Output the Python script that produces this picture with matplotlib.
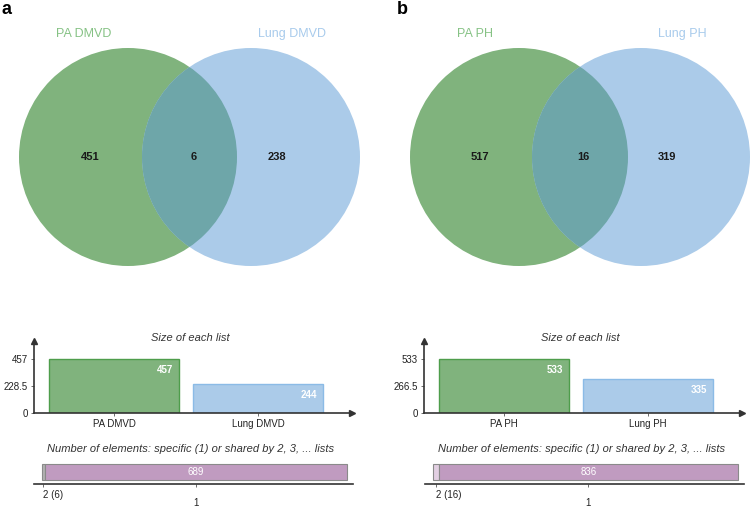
import matplotlib
matplotlib.use("Agg")
import matplotlib.pyplot as plt
from matplotlib.patches import Circle

plt.rcParams['font.family'] = ['Liberation Sans', 'DejaVu Sans']

# data
panel_letters = ['a', 'b']
set_names = [['PA DMVD', 'Lung DMVD'], ['PA PH', 'Lung PH']]
only_first = [451, 517]
shared = [6, 16]
only_second = [238, 319]
list_sizes = [[457, 244], [533, 335]]
size_ticks = [[0, 228.5, 457], [0, 266.5, 533]]
specific_counts = [689, 836]

W, H = 750, 507
GREEN = '#80b37d'
GREEN_EDGE = '#4e9d4b'
BLUE = '#abcbe9'
BLUE_EDGE = '#8bbbe6'
LENS = '#6ea6a9'
PURPLE = '#c09bc0'
GREEN_TXT = '#86c285'
BLUE_TXT = '#a8cbec'
AXCOL = '#333333'


def px_rect(x0, y0, x1, y1):
    # pixel box (top-left origin) -> figure fraction
    return [x0 / W, 1 - y1 / H, (x1 - x0) / W, (y1 - y0) / H]


fig = plt.figure(figsize=(7.5, 5.07), dpi=100)

# per panel layout (pixels)
venn_centers = [(128, 251), (144, 266)]
num_x = [(90, 194, 277), (105, 208, 292)]
name_x = [(84, 292), (100, 307)]
letter_x = [1, 397]
radius = 109

for i in range(2):
    off = 375 * i

    # --- venn ---
    ax = fig.add_axes(px_rect(off, 20, off + 375, 290))
    ax.set_xlim(0, 375)
    ax.set_ylim(290, 20)
    ax.axis('off')
    c1 = Circle((venn_centers[i][0], 157), radius, facecolor=GREEN, edgecolor='none')
    c2 = Circle((venn_centers[i][1], 157), radius, facecolor=BLUE, edgecolor='none')
    ax.add_patch(c1)
    ax.add_patch(c2)
    lens = Circle((venn_centers[i][0], 157), radius, facecolor=LENS, edgecolor='none')
    ax.add_patch(lens)
    lens.set_clip_path(c2)
    for xx, val in zip(num_x[i], [only_first[i], shared[i], only_second[i]]):
        ax.text(xx, 157, str(val), ha='center', va='center', fontsize=8,
                fontweight='bold', color='#1a1a1a')
    ax.text(name_x[i][0], 34, set_names[i][0], ha='center', va='center',
            fontsize=9, color=GREEN_TXT)
    ax.text(name_x[i][1], 34, set_names[i][1], ha='center', va='center',
            fontsize=9, color=BLUE_TXT)

    fig.text(letter_x[i] / W, 1 - 9 / H, panel_letters[i],
             fontsize=13, fontweight='bold', ha='left', va='center')

    # --- size of each list ---
    x0 = off + 34 + (15 if i else 0)
    bx = fig.add_axes(px_rect(x0, 341, x0 + 318, 413))
    top = list_sizes[i][0]
    bx.set_ylim(0, top * 72 / 54)
    bx.set_xlim(-80 / 144, 1 + 94 / 144)
    bars = bx.bar([0, 1], list_sizes[i], width=130 / 144,
                  color=[GREEN, BLUE], edgecolor=[GREEN_EDGE, BLUE_EDGE], linewidth=1)
    for b, v in zip(bars, list_sizes[i]):
        bx.annotate(str(v), (b.get_x() + b.get_width(), v), xytext=(-4, -4),
                    textcoords='offset points', ha='right', va='top',
                    color='white', fontsize=7, fontweight='bold')
    bx.set_xticks([0, 1])
    bx.set_xticklabels(set_names[i])
    bx.set_yticks(size_ticks[i])
    bx.set_yticklabels(['%g' % t for t in size_ticks[i]])
    for s in ['top', 'right']:
        bx.spines[s].set_visible(False)
    for s in ['left', 'bottom']:
        bx.spines[s].set_color(AXCOL)
        bx.spines[s].set_linewidth(1.2)
    bx.tick_params(length=2.5, width=0.6, colors='#555555', labelsize=7, pad=2,
                   labelcolor='#222222')
    bx.plot(1, 0, '>', color=AXCOL, markersize=4.5, transform=bx.transAxes, clip_on=False)
    bx.plot(0, 1, '^', color=AXCOL, markersize=4.5, transform=bx.transAxes, clip_on=False)
    bx.annotate('Size of each list', (0.5, 1), xycoords='axes fraction',
                xytext=(-3 * 0.72, 3 * 0.72), textcoords='offset points',
                ha='center', va='center',
                fontsize=8, fontstyle='italic', color='#333333')

    # --- specific / shared ---
    hx0 = off + 34 + (16 if i else 0)
    hx = fig.add_axes(px_rect(hx0, 462, hx0 + 319, 484))
    total = specific_counts[i] + shared[i]
    hx.set_xlim(-8 / 305 * total, total * (1 + 6 / 305))
    hx.set_ylim(0, 1)
    small_col = '#b3b3b3' if i == 0 else '#e2cfe2'
    hx.barh(0.55, shared[i], height=0.75, left=0, color=small_col,
            edgecolor='#8a8a8a', linewidth=0.8)
    hx.barh(0.55, specific_counts[i], height=0.75, left=shared[i], color=PURPLE,
            edgecolor='#8a8a8a', linewidth=0.8)
    hx.text(shared[i] + specific_counts[i] / 2, 0.55, str(specific_counts[i]),
            ha='center', va='center', color='white', fontsize=7)
    hx.set_xticks([shared[i] / 2, shared[i] + specific_counts[i] / 2])
    hx.set_xticklabels(['2 (%d)' % shared[i], '1'])
    hx.set_yticks([])
    for s in ['top', 'right', 'left']:
        hx.spines[s].set_visible(False)
    hx.spines['bottom'].set_color(AXCOL)
    hx.spines['bottom'].set_linewidth(1.2)
    hx.tick_params(axis='x', length=2.5, width=0.6, colors='#555555', labelsize=7,
                   pad=1.5, labelcolor='#222222')
    hx.xaxis.get_major_ticks()[1].set_pad(7.5)
    for lab in hx.get_xticklabels()[:1]:
        lab.set_horizontalalignment('left')
    hx.annotate('Number of elements: specific (1) or shared by 2, 3, ... lists',
                (0.5, 1), xycoords='axes fraction', xytext=(-3 * 0.72, 13 * 0.72),
                textcoords='offset points', ha='center', va='center',
                fontsize=8, fontstyle='italic', color='#333333')

fig.savefig('out.png', dpi=100)
